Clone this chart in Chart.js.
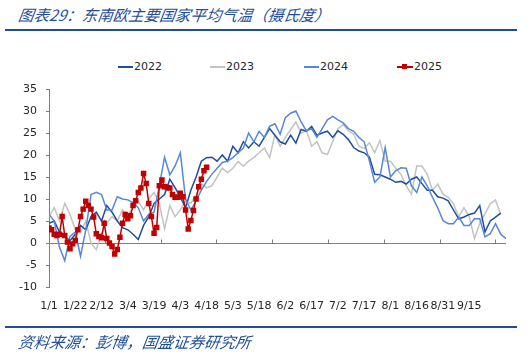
<!DOCTYPE html>
<html>
<head>
<meta charset="utf-8">
<script src="https://cdn.jsdelivr.net/npm/chart.js@4.4.1/dist/chart.umd.min.js"></script>
<style>
body{margin:0;background:#fff;}
#wrap{position:relative;width:532px;height:354px;overflow:hidden;}
canvas{position:absolute;left:0;top:0;}
.cn{position:absolute;left:17px;font-family:"Noto Sans CJK SC",sans-serif;font-style:italic;color:#1f4e99;font-size:15.5px;white-space:nowrap;transform:skewX(-8deg);transform-origin:left bottom;}
.rule{position:absolute;left:5px;width:512px;height:2px;background:#1f4e99;}
.lg{position:absolute;top:60px;height:14px;line-height:14px;font-family:"DejaVu Sans",sans-serif;font-size:11px;color:#262626;white-space:nowrap;}
.lg i{display:inline-block;height:2px;vertical-align:middle;margin-right:1px;position:relative;}
.lg b{position:absolute;left:5px;top:-2px;width:5px;height:5px;background:#c00000;}
</style>
</head>
<body>
<div id="wrap">
  <div class="cn" style="top:3px">图表29：东南欧主要国家平均气温（摄氏度）</div>
  <div class="rule" style="top:29px"></div>
  <div class="lg" style="left:118px"><i style="width:15px;background:#1f4e9c"></i>2022</div>
  <div class="lg" style="left:210px"><i style="width:15px;background:#c3c3c3"></i>2023</div>
  <div class="lg" style="left:304px"><i style="width:15px;background:#5588d6"></i>2024</div>
  <div class="lg" style="left:397px"><i style="width:16px;background:#c00000"><b></b></i>2025</div>
  <canvas id="c" width="532" height="354"></canvas>
  <div class="rule" style="top:326px"></div>
  <div class="cn" style="top:330px">资料来源：彭博，国盛证券研究所</div>
</div>
<script>
// x-axis labels, one every 5 points
const dateLabels = ["1/1","1/22","2/12","3/4","3/19","4/3","4/18","5/3","5/18","6/2","6/17","7/2","7/17","8/1","8/16","8/31","9/15"];
const labelStep = 5;
const tickMarkStep = 10.625;

const s2022 = [4.5,5,2.5,1.5,0.5,2,4,3,6,7,
  5,8.5,7,5,3.5,3,2,0.8,4,6,
  9,10,11,14.5,12.6,10.4,8,12,15,18.6,
  19.4,19.5,18.6,20,18.6,22,20.5,23,21.6,23,
  22,24,26,24.5,23,22.5,24.5,22.7,25.8,25.4,
  26.5,24.5,25,25.4,24,25.5,24.7,23.5,21.7,20.9,
  20.5,19.5,15.6,15.5,15,14.5,13.8,14,13.4,14.5,
  15,13.5,12,12,10.5,10.2,9.6,7.5,5.5,5.9,
  6.5,6.8,8.5,2.5,5,5.9,6.8,null];

const s2023 = [6,8,5,9,6.5,3,2.5,5,0,-1.5,
  2,4.5,6,5,7.5,6.5,8,9.5,7.5,10,
  11.5,9,3.2,8.5,6,7.5,9.5,9,11,13.5,
  12.5,13,15,17,16,17,18.5,17.5,18.6,19.4,
  20.5,21.6,19.4,24.6,22,24,25.8,27.5,25,25.5,
  22,23,20.5,20.1,23,26,26.9,25.5,24.7,22,
  21.5,22.8,20.5,23.3,18.6,18.6,17,15.6,13,11.1,
  17.5,17.5,15.6,12,13.4,11.1,10.4,8.9,6,8,
  6,1,4.5,6.6,8.9,9.8,6.5,null];

const s2024 = [6.5,5,-1,-4,1.5,2.5,-3,3,11,11.5,
  11,7.5,7.5,10.5,10,9.8,9.2,8,5,6.5,
  7,13,19.5,15.5,17.5,20.5,10,7.5,9.6,12,
  14,15.6,17,18.3,18.6,19.4,20.5,21.6,25,23,
  25.4,24,26.5,27.1,24.7,28.5,29.5,30,27.5,25.5,
  26,24,26,28,28.8,28,27.3,26,25.4,24,
  23,18.6,13.8,15,21.7,15,16.4,17.1,17,13,
  11.5,15,13,10.4,8,5.1,4.4,4.4,5.9,4,
  4,5.5,5.5,1.4,2.1,4.4,2,1];

// 2025 is sampled twice as often
const s2025 = [3.4,3.0,2.0,1.7,2.0,6.0,1.7,0.2,-1.3,-0.2,
  0.6,3.0,6.0,7.7,9.5,8.5,7.7,5.9,2.1,1.5,
  1.2,4.5,1.0,0,-0.8,-2.5,-1.5,1.3,4.5,6.5,
  5.5,6.2,8.5,9.6,11.5,12.5,15.8,13.5,9.0,6.0,
  2.2,3.5,13.0,14.3,12.8,12.6,12.5,11,10.4,10.4,
  11.3,10.5,7.5,3.2,5.1,7.4,10,12.8,14.5,16.4,
  17.2];

const xMax = s2024.length - 1;
const tickFont = {family: "DejaVu Sans", size: 11};
const axisGray = "#7f7f7f";

function line(label, vals, step, color, order) {
  return {
    label: label,
    data: vals.map((v, i) => ({x: i * step, y: v})),
    borderColor: color,
    backgroundColor: color,
    borderWidth: 1.5,
    pointRadius: 0,
    tension: 0,
    order: order
  };
}

const ds2025 = line("2025", s2025, 0.5, "#c00000", 0);
ds2025.pointRadius = 2.8;
ds2025.pointStyle = "rect";

// horizontal axis drawn at y = 0 (behind the lines) with small tick marks pointing up
const zeroAxis = {
  id: "zeroAxis",
  afterDraw(chart) {
    const ctx = chart.ctx;
    const area = chart.chartArea;
    const py = Math.round(chart.scales.y.getPixelForValue(0)) + 0.5;
    ctx.save();
    ctx.globalCompositeOperation = "destination-over";
    ctx.strokeStyle = axisGray;
    ctx.lineWidth = 1;
    ctx.beginPath();
    ctx.moveTo(area.left, py);
    ctx.lineTo(area.right, py);
    for (let k = 1; k * tickMarkStep <= xMax; k++) {
      const px = Math.round(chart.scales.x.getPixelForValue(k * tickMarkStep)) + 0.5;
      ctx.moveTo(px, py);
      ctx.lineTo(px, py - 4);
    }
    ctx.stroke();
    ctx.restore();
  }
};

new Chart(document.getElementById("c"), {
  type: "line",
  data: {
    datasets: [
      line("2022", s2022, 1, "#1f4e9c", 3),
      line("2023", s2023, 1, "#c3c3c3", 4),
      line("2024", s2024, 1, "#5588d6", 2),
      ds2025
    ]
  },
  plugins: [zeroAxis],
  options: {
    responsive: false,
    animation: false,
    layout: {padding: {left: 0, right: 26, top: 89, bottom: 0}},
    plugins: {legend: {display: false}, tooltip: {enabled: false}},
    scales: {
      x: {
        type: "linear",
        position: "bottom",
        min: 0, max: xMax,
        grid: {display: false},
        border: {display: false},
        afterBuildTicks: s => { s.ticks = dateLabels.map((_, i) => ({value: i * labelStep})); },
        afterFit: s => { s.height = 67; },
        ticks: {
          autoSkip: false, maxRotation: 0, minRotation: 0,
          color: "#262626", font: tickFont, padding: 5,
          callback: (v, i) => dateLabels[i]
        }
      },
      y: {
        type: "linear",
        min: -10, max: 35,
        afterFit: s => { s.width = 49; },
        grid: {drawOnChartArea: false, tickLength: 3, color: axisGray},
        border: {color: axisGray, width: 1},
        ticks: {stepSize: 5, color: "#262626", font: tickFont, padding: 9}
      }
    }
  }
});
</script>
</body>
</html>
